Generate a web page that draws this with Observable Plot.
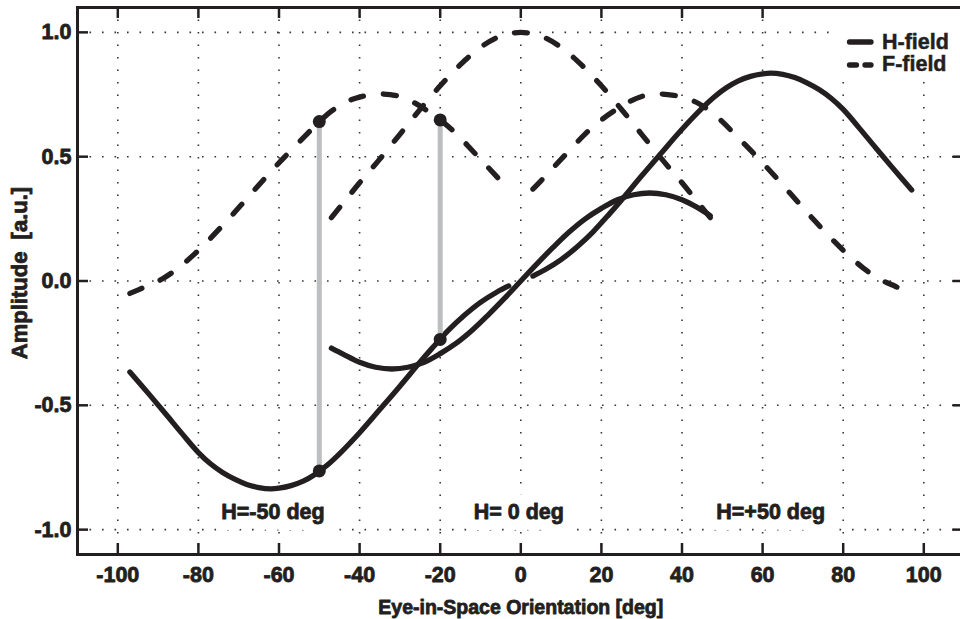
<!DOCTYPE html>
<html><head><meta charset="utf-8">
<script src="https://cdn.jsdelivr.net/npm/d3@7"></script>
<script src="https://cdn.jsdelivr.net/npm/@observablehq/plot@0.6"></script>
<style>
html,body{margin:0;padding:0;background:#fff;}
#wrap{position:relative;width:960px;height:619px;overflow:hidden;}
#legend{position:absolute;left:838px;top:9px;width:122px;height:73px;background:#fff;font:bold 21.5px "Liberation Sans",Arial,sans-serif;color:#231f20;-webkit-text-stroke:0.5px #231f20;}
#legend .lab{position:absolute;left:44px;height:17px;line-height:17px;white-space:nowrap;}
</style></head>
<body><div id="wrap"><div id="chart"></div><div id="legend"></div></div>
<script>
// ---- data ----
const xTicks = [-100, -80, -60, -40, -20, 0, 20, 40, 60, 80, 100];
const yTicks = [-1, -0.5, 0, 0.5, 1];

// H-field (solid)
const hNeg50X = [-97, -92, -88, -84, -80, -77, -74, -71, -68, -65, -62, -60, -57, -54, -51, -48, -45, -40, -35, -30, -25, -22, -18, -14, -10, -6, -3];
const hNeg50Y = [-0.366, -0.46, -0.537, -0.615, -0.69, -0.735, -0.77, -0.797, -0.818, -0.831, -0.836, -0.833, -0.823, -0.805, -0.777, -0.74, -0.695, -0.61, -0.517, -0.423, -0.326, -0.27, -0.199, -0.138, -0.086, -0.045, -0.02];
const hZeroX = [-47, -44, -40, -36, -32, -28, -24, -20, -16, -12, -8, -4, 0, 4, 8, 12, 16, 20, 24, 28, 32, 36, 40, 44, 47];
const hZeroY = [-0.27, -0.295, -0.327, -0.347, -0.354, -0.347, -0.327, -0.292, -0.25, -0.197, -0.135, -0.069, 0, 0.069, 0.135, 0.197, 0.25, 0.292, 0.327, 0.347, 0.354, 0.347, 0.327, 0.294, 0.263];
const hPos50X = [3, 6, 10, 14, 18, 22, 25, 30, 35, 40, 45, 48, 51, 54, 57, 60, 62, 65, 68, 71, 74, 77, 80, 84, 88, 92, 97];
const hPos50Y = [0.02, 0.045, 0.086, 0.138, 0.199, 0.27, 0.326, 0.423, 0.517, 0.61, 0.695, 0.74, 0.777, 0.805, 0.823, 0.833, 0.836, 0.831, 0.818, 0.797, 0.77, 0.735, 0.69, 0.615, 0.537, 0.46, 0.366];

// F-field (dashed)
const fNeg50X = [-97, -93, -89, -85, -81, -77, -73, -69, -65, -61, -57, -53, -50, -47, -44, -41, -38, -34, -30, -27, -24, -20, -16, -12, -8, -5, -3];
const fNeg50Y = [-0.05, -0.022, 0.008, 0.052, 0.108, 0.172, 0.241, 0.313, 0.386, 0.458, 0.526, 0.592, 0.641, 0.683, 0.715, 0.735, 0.747, 0.752, 0.742, 0.722, 0.693, 0.648, 0.592, 0.524, 0.455, 0.403, 0.37];
const fZeroX = [-47, -44, -40, -35, -30, -25, -20, -15, -10, -5, 0, 5, 10, 15, 20, 25, 30, 35, 40, 44, 47];
const fZeroY = [0.255, 0.315, 0.395, 0.49, 0.59, 0.69, 0.785, 0.87, 0.94, 0.985, 1.0, 0.985, 0.94, 0.87, 0.785, 0.69, 0.59, 0.49, 0.395, 0.315, 0.255];
const fPos50X = [3, 5, 8, 12, 16, 20, 24, 27, 30, 34, 38, 41, 44, 47, 50, 53, 57, 61, 65, 69, 73, 77, 81, 85, 89, 93, 97];
const fPos50Y = [0.37, 0.403, 0.455, 0.524, 0.592, 0.648, 0.693, 0.722, 0.742, 0.752, 0.747, 0.735, 0.715, 0.683, 0.641, 0.592, 0.526, 0.458, 0.386, 0.313, 0.241, 0.172, 0.108, 0.052, 0.008, -0.022, -0.05];

// marked positions (gray connectors)
const markX = [-50, -20];
const markH = [-0.764, -0.235];
const markF = [0.641, 0.648];

// annotations
const labelText = ["H=-50 deg", "H= 0 deg", "H=+50 deg"];
const labelX = [-61.5, -0.5, 62];
const labelY = [-0.93, -0.93, -0.93];

const seriesNames = ["H-field", "F-field"];
const xTitle = "Eye-in-Space Orientation [deg]";
const yTitle = "Amplitude  [a.u.]";

// ---- build ----
const INK = "#231f20";
const rows = (xs, ys, s) => xs.map((x, i) => ({x, y: ys[i], s}));
const hRows = [...rows(hNeg50X, hNeg50Y, "-50"), ...rows(hZeroX, hZeroY, "0"), ...rows(hPos50X, hPos50Y, "+50")];
const fRows = [...rows(fNeg50X, fNeg50Y, "-50"), ...rows(fZeroX, fZeroY, "0"), ...rows(fPos50X, fPos50Y, "+50")];
const labels = labelText.map((t, i) => ({t, x: labelX[i], y: labelY[i]}));
const dots = [...markX.map((x, i) => ({x, y: markH[i]})), ...markX.map((x, i) => ({x, y: markF[i]}))];

const W = 960, H = 619, mL = 77, mR = -3.6, mT = 7, mB = 65;
const plotW = W - mL - mR, plotH = H - mT - mB;
const font = "'Liberation Sans', Arial, Helvetica, sans-serif";
const gridStyle = {stroke: INK, strokeOpacity: 0.9, strokeWidth: 1.6, strokeDasharray: "1.6,10.9"};
const textW = {fontWeight: "bold", fill: INK, stroke: INK, strokeWidth: 0.8};

const chart = Plot.plot({
  width: W, height: H,
  marginLeft: mL, marginRight: mR, marginTop: mT, marginBottom: mB,
  x: {domain: [-110, 110]},
  y: {domain: [-1.1, 1.1]},
  style: {fontFamily: font, fontWeight: "bold", fontSize: "21px", color: INK, background: "transparent"},
  marks: [
    Plot.gridX(xTicks, gridStyle),
    Plot.gridY(yTicks, gridStyle),
    Plot.text(labels, {x: "x", y: "y", text: "t", fontSize: 21.5, fontWeight: "bold", fill: "white", stroke: "white", strokeWidth: 22, strokeLinejoin: "round"}),
    Plot.text(labels, {x: "x", y: "y", text: "t", fontSize: 21.5, ...textW}),
    Plot.line(hRows, {x: "x", y: "y", z: "s", stroke: INK, strokeWidth: 5.3, strokeLinecap: "round", strokeLinejoin: "round", curve: "catmull-rom"}),
    Plot.line(fRows, {x: "x", y: "y", z: "s", stroke: INK, strokeWidth: 5.3, strokeLinecap: "round", strokeLinejoin: "round", strokeDasharray: "13,20", curve: "catmull-rom"}),
    Plot.ruleX(markX, {x: d => d, y1: (d, i) => markH[i], y2: (d, i) => markF[i], stroke: "#bcbec0", strokeWidth: 5}),
    Plot.dot(dots, {x: "x", y: "y", r: 6.5, fill: INK, stroke: null}),
    Plot.tickX(xTicks, {x: d => d, insetTop: plotH - 11, stroke: INK, strokeWidth: 2.5}),
    Plot.tickX(xTicks, {x: d => d, insetBottom: plotH - 11, stroke: INK, strokeWidth: 2.5}),
    Plot.tickY(yTicks, {y: d => d, insetRight: plotW - 11, stroke: INK, strokeWidth: 2.5}),
    Plot.tickY(yTicks, {y: d => d, insetLeft: plotW - 11, stroke: INK, strokeWidth: 2.5}),
    Plot.frame({stroke: INK, strokeWidth: 3}),
    Plot.axisX(xTicks, {anchor: "bottom", tickSize: 0, tickPadding: 12, label: null, tickFormat: d => String(d), fontSize: 21.5, fontWeight: "bold", fill: INK, textStroke: INK, textStrokeWidth: 0.8}),
    Plot.axisY(yTicks, {anchor: "left", tickSize: 0, tickPadding: 6, label: null, tickFormat: d => d.toFixed(1), fontSize: 21.5, fontWeight: "bold", fill: INK, textStroke: INK, textStrokeWidth: 0.8}),
    Plot.text([xTitle], {text: d => d, frameAnchor: "bottom", textAnchor: "middle", lineAnchor: "middle", dy: 53, fontSize: 19.5, ...textW}),
    Plot.text([yTitle], {text: d => d, frameAnchor: "left", textAnchor: "middle", lineAnchor: "middle", dx: -58, dy: -8, rotate: -90, fontSize: 22, ...textW})
  ]
});
document.getElementById("chart").appendChild(chart);

// legend (inside the axes box, top right)
const legend = document.getElementById("legend");
const swatchY = [33, 56];
const textTop = [24.5, 46.5];
let svg = `<svg width="40" height="73" style="position:absolute;left:0;top:0">`;
seriesNames.forEach((n, i) => {
  svg += `<line x1="11.5" x2="33" y1="${swatchY[i]}" y2="${swatchY[i]}" stroke="${INK}" stroke-width="5.3" stroke-linecap="round"${i === 1 ? ' stroke-dasharray="7,8.5"' : ''}/>`;
});
svg += `</svg>`;
legend.innerHTML = svg + seriesNames.map((n, i) => `<div class="lab" style="top:${textTop[i]}px">${n}</div>`).join("");
</script>
</body></html>
